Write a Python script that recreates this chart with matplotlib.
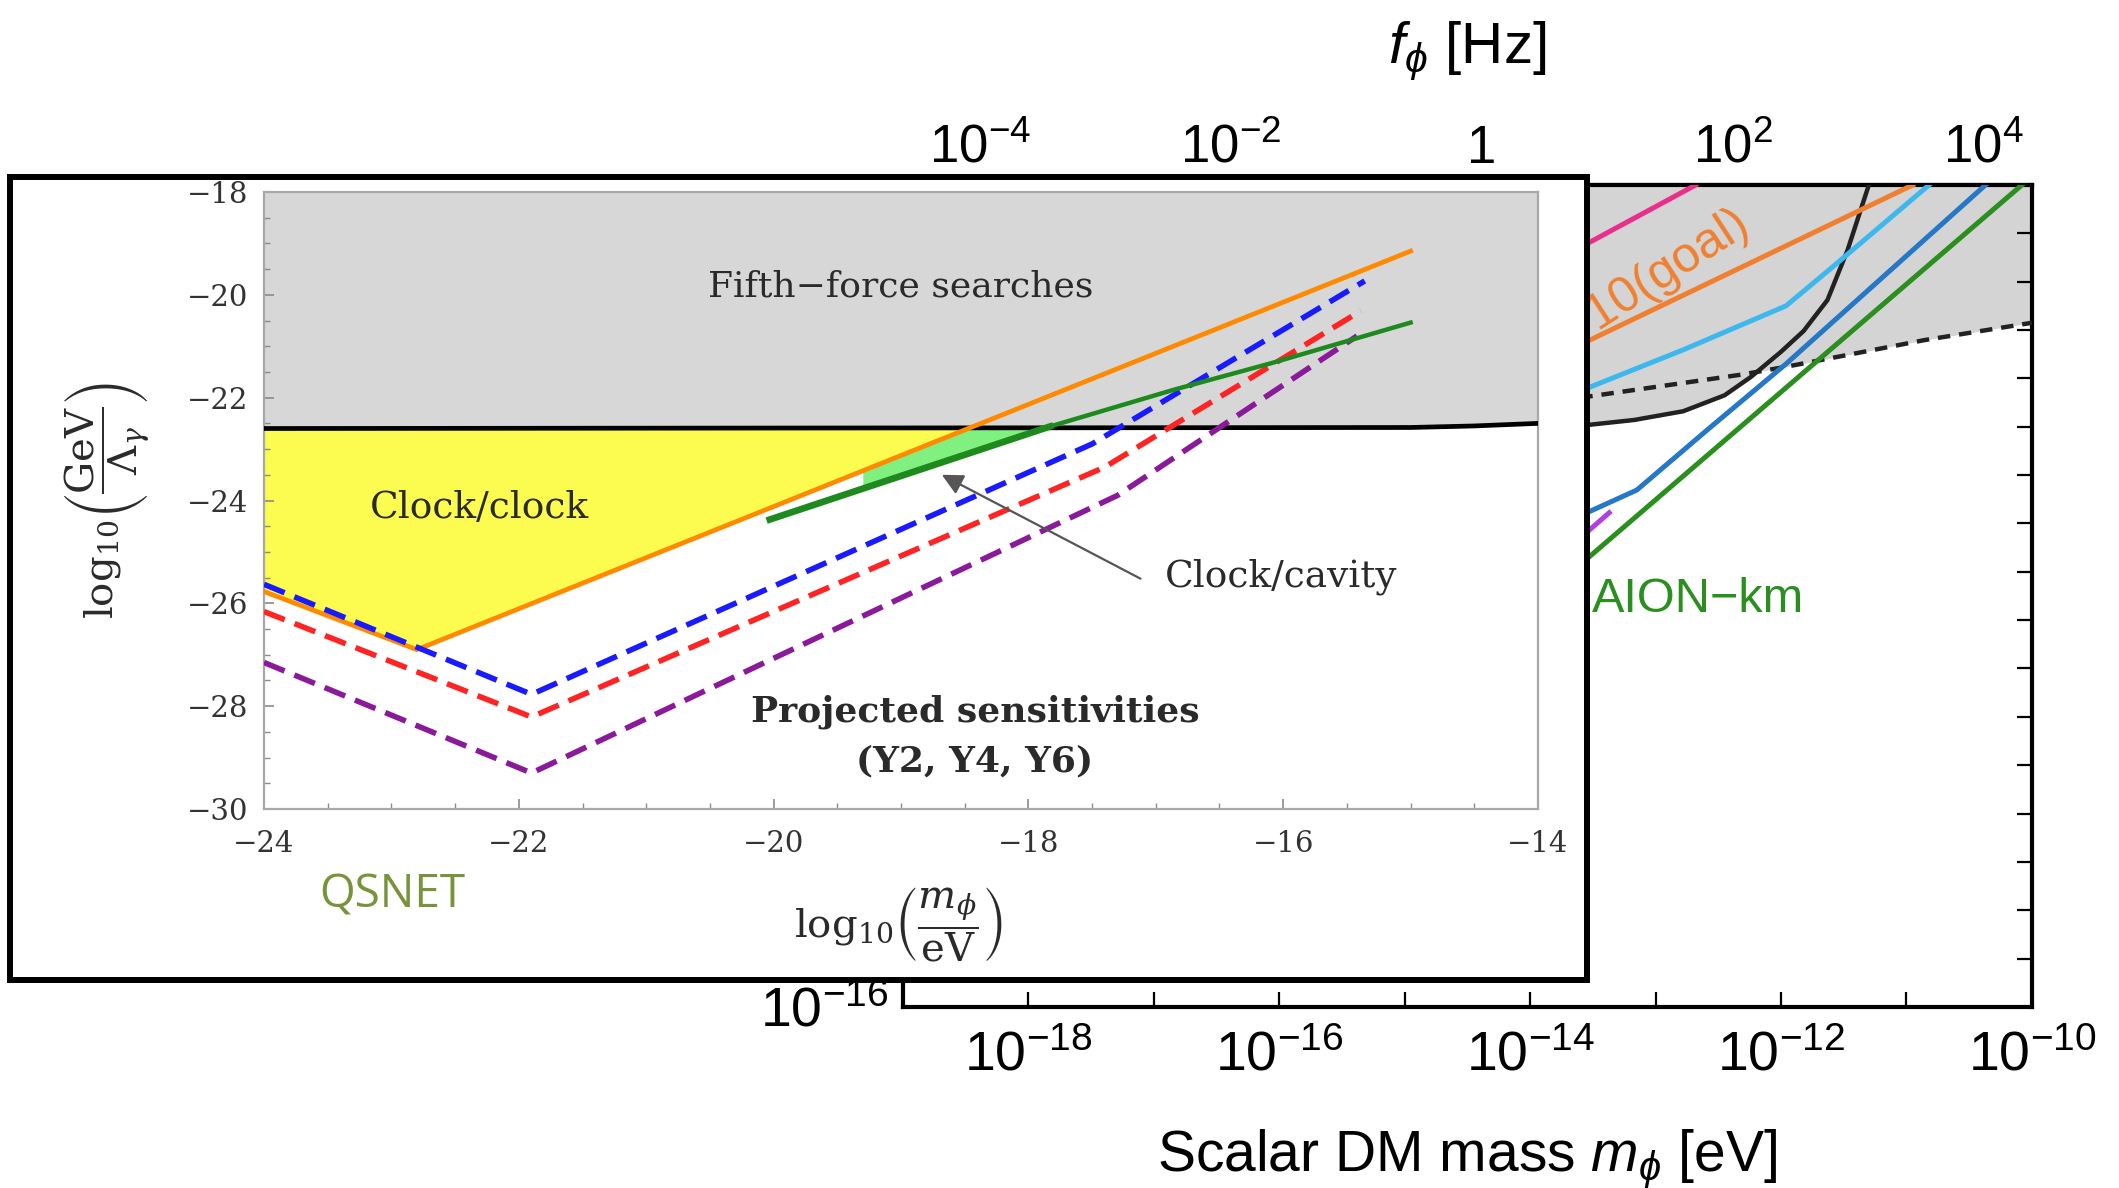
import matplotlib as mpl
import matplotlib.pyplot as plt
import numpy as np
from matplotlib.patches import Rectangle
from matplotlib.ticker import NullLocator, MultipleLocator

mpl.rcParams['font.family'] = ['Liberation Sans', 'DejaVu Sans']
mpl.rcParams['mathtext.fontset'] = 'custom'
mpl.rcParams['mathtext.rm'] = 'Liberation Sans'
mpl.rcParams['mathtext.it'] = 'Liberation Sans:italic'
mpl.rcParams['mathtext.bf'] = 'Liberation Sans:bold'
mpl.rcParams['mathtext.fallback'] = 'stixsans'

# ---- background (AION) curves, log10 values ----
pink_logm = [-13.6, -12.68]
pink_logy = [-0.29, 1.0]
aion10_logm = [-14.4, -10.95]
aion10_logy = [-3.30, 1.0]
sky_logm = [-13.6, -12.78, -11.96, -11.6, -10.82]
sky_logy = [-3.26, -2.41, -1.50, -0.72, 1.0]
bound_logm = [-13.6, -13.17, -12.78, -12.45, -12.24, -12.0, -11.82, -11.63, -11.47, -11.30]
bound_logy = [-3.98, -3.86, -3.68, -3.35, -2.97, -2.45, -2.02, -1.38, -0.35, 1.0]
dashed_logm = [-13.6, -12.31, -11.96, -10.86, -10.0]
dashed_logy = [-3.40, -2.92, -2.76, -2.21, -1.85]
blue_logm = [-13.6, -13.15, -12.59, -11.96, -10.37]
blue_logy = [-5.84, -5.31, -4.07, -2.70, 1.0]
violet_logm = [-13.6, -13.37]
violet_logy = [-6.30, -5.78]
aionkm_logm = [-13.6, -10.08]
aionkm_logy = [-6.85, 1.0]

bottom_exp = list(range(-19, -9))
top_exp = list(range(-4, 5))
hz_per_ev = 2.418e14

# ---- inset (QSNET) curves ----
fifth_logm = [-24, -15.0, -14.5, -14.0]
fifth_logc = [-22.6, -22.58, -22.55, -22.5]
clock_logm = [-24, -22.8, -15.0]
clock_logc = [-25.77, -26.9, -19.15]
y2_logm = [-24, -21.9, -17.5, -15.36]
y2_logc = [-25.63, -27.77, -22.9, -19.73]
y4_logm = [-24, -21.9, -17.4, -15.39]
y4_logc = [-26.16, -28.21, -23.35, -20.31]
y6_logm = [-24, -21.9, -17.3, -15.42]
y6_logc = [-27.15, -29.3, -23.9, -20.8]
cavity_logm = [-20.03, -17.83, -16.85, -16.08, -15.0]
cavity_logc = [-24.37, -22.56, -21.84, -21.32, -20.54]
cavity_fill_m = [-19.3, -18.48, -17.83]

fig = plt.figure(figsize=(21.19, 11.88), dpi=100)

# background axes
ax = fig.add_axes([0.4261, 0.1524, 0.5328, 0.6919], zorder=0)
ax.set_xscale('log')
ax.set_yscale('log')
ax.set_xlim(1e-19, 1e-10)
ax.set_ylim(1e-16, 1e1)

p = lambda a: 10.0 ** np.asarray(a)
gray = '#D4D4D4'
ax.fill_between(p(bound_logm), p(bound_logy), 1e1, color=gray, lw=0, zorder=1)
ax.fill_between(p(dashed_logm), p(dashed_logy), 1e1, color=gray, lw=0, zorder=1)
ax.plot(p(bound_logm), p(bound_logy), color='#222222', lw=3.2, zorder=3)
ax.plot(p(dashed_logm), p(dashed_logy), color='#222222', lw=3.2, ls=(0, (2.8, 2.0)), zorder=3)
ax.plot(p(pink_logm), p(pink_logy), color='#E8308A', lw=3.6, zorder=4)
ax.plot(p(aion10_logm), p(aion10_logy), color='#F08030', lw=3.6, zorder=4)
ax.plot(p(sky_logm), p(sky_logy), color='#3DB8EE', lw=3.6, zorder=4)
ax.plot(p(blue_logm), p(blue_logy), color='#2478C6', lw=3.6, zorder=4)
ax.plot(p(violet_logm), p(violet_logy), color='#B040E0', lw=3.6, zorder=4)
ax.plot(p(aionkm_logm), p(aionkm_logy), color='#2A8F1E', lw=3.6, zorder=4)

ax.text(10 ** -14.38, 10 ** -3.58, 'AION-10(goal)', color='#F08030', fontsize=36,
        rotation=33, rotation_mode='anchor', ha='left', va='baseline', zorder=5)
ax.text(10 ** -13.51, 10 ** -7.83, 'AION\u2212km', color='#2A8F1E', fontsize=35,
        ha='left', va='baseline', zorder=5)

ax.set_xticks(p(bottom_exp), labels=[r'$10^{%d}$' % e if e % 2 == 0 else '' for e in bottom_exp])
ax.set_yticks(p(range(-16, 2)), labels=[r'$10^{-16}$'] + [''] * 17)
ax.xaxis.set_minor_locator(NullLocator())
ax.yaxis.set_minor_locator(NullLocator())
ax.tick_params(which='both', direction='in', length=11, width=1.6, labelsize=40,
               right=True, top=False, pad=10)
ax.tick_params(axis='x', pad=17)
for s in ax.spines.values():
    s.set_linewidth(3)
ax.set_xlabel(r'Scalar DM mass $m_\phi$ [eV]', fontsize=41, labelpad=32)

sec = ax.secondary_xaxis('top', functions=(lambda m: m * hz_per_ev, lambda f: f / hz_per_ev))
top_lab = {-4: r'$10^{-4}$', -2: r'$10^{-2}$', 0: '1', 2: r'$10^{2}$', 4: r'$10^{4}$'}
sec.set_xticks(p(top_exp), labels=[top_lab.get(e, '') for e in top_exp])
sec.xaxis.set_minor_locator(NullLocator())
sec.tick_params(direction='in', length=11, width=1.6, labelsize=38, pad=8)
sec.spines['top'].set_linewidth(3)
sec.set_xlabel(r'$f_\phi$ [Hz]', fontsize=42, labelpad=44)

# white framed box for the inset
frame = Rectangle((0.0047, 0.1751), 0.7442, 0.6759, transform=fig.transFigure,
                  facecolor='white', edgecolor='black', linewidth=4.3, zorder=1)
fig.add_artist(frame)

# inset axes
ins = fig.add_axes([0.1246, 0.3190, 0.6012, 0.5194], zorder=2)
ins.set_xlim(-24, -14)
ins.set_ylim(-30, -18)
black_level = fifth_logc[0]

cm = np.asarray(clock_logm)
cc = np.asarray(clock_logc)
ins.fill_between(cm, cc, black_level, where=cc <= black_level + 0.8, interpolate=True,
                 color='#FCFC50', lw=0, zorder=1)
ins.fill_between(fifth_logm, fifth_logc, -18, color='#D7D7D7', lw=0, zorder=1.1)
fm = np.asarray(cavity_fill_m)
ins.fill_between(fm, np.interp(fm, cavity_logm, cavity_logc),
                 np.minimum(np.interp(fm, clock_logm, clock_logc), black_level),
                 color='#80F080', lw=0, zorder=2)

ins.plot(fifth_logm, fifth_logc, color='black', lw=3.4, zorder=3)
ins.plot(clock_logm, clock_logc, color='#FF8A00', lw=3.4, zorder=3)
dash = (0, (4.0, 1.9))
ins.plot(y2_logm, y2_logc, color='#1A1AFF', lw=4.0, ls=dash, zorder=4)
ins.plot(y4_logm, y4_logc, color='#FF2424', lw=4.0, ls=dash, zorder=4)
ins.plot(y6_logm, y6_logc, color='#8A1A9A', lw=4.0, ls=dash, zorder=4)
ins.plot(cavity_logm, cavity_logc, color='#1E8A1E', lw=3.2, zorder=5)
ins.plot(cavity_logm[:2], cavity_logc[:2], color='#1E8A1E', lw=4.8, zorder=5)

serif = 'DejaVu Serif'
tc = '#2A2A2A'
ins.text(-19.0, -19.84, 'Fifth\u2212force searches', ha='center', va='center',
         fontsize=26, family=serif, color=tc, zorder=6)
ins.text(-22.31, -24.14, 'Clock/clock', ha='center', va='center',
         fontsize=27, family=serif, color=tc, zorder=6)
ins.text(-16.02, -25.48, 'Clock/cavity', ha='center', va='center',
         fontsize=27, family=serif, color=tc, zorder=6)
ins.text(-18.42, -28.1, 'Projected sensitivities', ha='center', va='center',
         fontsize=26, family=serif, weight='bold', color=tc, zorder=6)
ins.text(-18.42, -29.07, '(Y2, Y4, Y6)', ha='center', va='center',
         fontsize=26, family=serif, weight='bold', color=tc, zorder=6)
ins.annotate('', xy=(-18.68, -23.5), xytext=(-17.12, -25.52),
             arrowprops=dict(arrowstyle='-|>', color='#555555', lw=1.6,
                             mutation_scale=32, shrinkA=0, shrinkB=0), zorder=6)

ins.set_xticks(range(-24, -13, 2))
ins.set_yticks(range(-30, -17, 2))
ins.xaxis.set_minor_locator(MultipleLocator(0.5))
ins.yaxis.set_minor_locator(MultipleLocator(0.5))
ins.tick_params(which='major', direction='in', length=7, width=1.2, color='#8A8A8A',
                labelsize=21, labelcolor='#333333', labelfontfamily=serif)
ins.tick_params(which='minor', direction='in', length=4, width=1.0, color='#8A8A8A')
ins.tick_params(axis='x', pad=15)
ins.tick_params(axis='y', pad=11)
for s in ins.spines.values():
    s.set_color('#A8A8A8')
    s.set_linewidth(1.6)

ins.set_ylabel(r'$\log_{10}\!\left(\dfrac{\mathrm{GeV}}{\Lambda_\gamma}\right)$',
               fontsize=29, math_fontfamily='dejavuserif', color=tc)
ins.yaxis.set_label_coords(-0.088, 0.5)
ins.set_xlabel(r'$\log_{10}\!\left(\dfrac{m_\phi}{\mathrm{eV}}\right)$',
               fontsize=29, math_fontfamily='dejavuserif', color=tc)
ins.xaxis.set_label_coords(0.498, -0.125)

fig.text(0.185, 0.2466, 'QSNET', color='#77933C', fontsize=33, family='Open Sans',
         ha='center', va='center', zorder=3)

fig.savefig('out.png', dpi=100)
